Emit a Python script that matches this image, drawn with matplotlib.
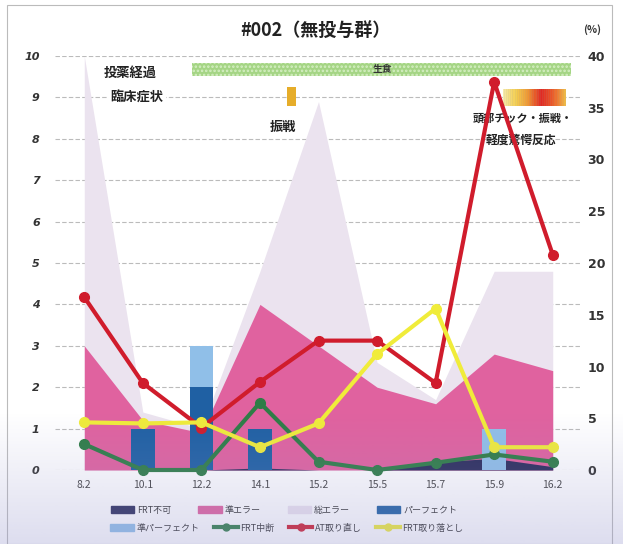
import matplotlib
matplotlib.use('Agg')
import matplotlib.pyplot as plt
import numpy as np
from matplotlib.patches import Rectangle, Patch
from matplotlib.lines import Line2D

plt.rcParams['font.family'] = ['Noto Sans CJK JP', 'DejaVu Sans']

categories = ['8.2', '10.1', '12.2', '14.1', '15.2', '15.5', '15.7', '15.9', '16.2']
# left axis (counts)
frt_fuka = [0, 0, 0, 0.05, 0, 0, 0.2, 0.28, 0.08]
jun_error = [3.0, 1.2, 0.9, 4.0, 3.0, 2.0, 1.6, 2.8, 2.4]
sou_error = [10.0, 1.4, 1.0, 4.8, 8.9, 2.6, 1.7, 4.8, 4.8]
perfect = [0, 1, 2, 1, 0, 0, 0, 0, 0]
jun_perfect = [0, 0, 1, 0, 0, 0, 0, 1, 0]
# right axis (%)
frt_chudan = [2.5, 0, 0, 6.5, 0.8, 0, 0.7, 1.5, 0.8]
at_torinaoshi = [16.7, 8.4, 4.1, 8.5, 12.5, 12.5, 8.4, 37.5, 20.8]
frt_toriotoshi = [4.6, 4.5, 4.6, 2.2, 4.5, 11.2, 15.6, 2.2, 2.2]

series_names = ['FRT不可', '準エラー', '総エラー', 'パーフェクト',
                '準パーフェクト', 'FRT中断', 'AT取り直し', 'FRT取り落とし']

c_navy = '#2b2d5c'
c_pink = '#e0629f'
c_lav = '#ebe3ef'
c_blue = '#1f60a3'
c_lblue = '#90bfe8'
c_green = '#2e7d46'
c_red = '#d01c2c'
c_yellow = '#f0ec3a'

W, H = 623, 544
fig = plt.figure(figsize=(W / 100, H / 100), dpi=100)
fig.patch.set_facecolor('white')

ax = fig.add_axes([55 / W, 1 - 470 / H, 527 / W, 414 / H])
x = np.arange(len(categories))
ax.set_xlim(-0.5, len(categories) - 0.5)
ax.set_ylim(0, 10)
ax.set_yticks(range(0, 11))
ax.set_axisbelow(True)
ax.grid(axis='y', linestyle=(0, (4, 2)), color='#bbbbbb', lw=0.8)
for s in ax.spines.values():
    s.set_visible(False)

ax.fill_between(x, 0, sou_error, color=c_lav, lw=0, zorder=1)
ax.fill_between(x, 0, jun_error, color=c_pink, lw=0, zorder=2)
ax.fill_between(x, 0, frt_fuka, color=c_navy, lw=0, zorder=3)
ax.bar(x, perfect, width=0.4, color=c_blue, zorder=4)
ax.bar(x, jun_perfect, width=0.4, bottom=perfect, color=c_lblue, zorder=4)

ax.set_xticks(x, categories)
ax.tick_params(axis='x', length=0, pad=7, labelsize=7.5, labelcolor='#444444')
ax.tick_params(axis='y', length=0, pad=11, labelsize=8, labelcolor='#333333')
for t in ax.get_yticklabels():
    t.set_fontstyle('italic')
    t.set_fontweight('bold')
    t.set_fontfamily(['DejaVu Sans'])

# annotation shapes (medication / symptoms)
plt.rcParams['hatch.linewidth'] = 1.2
ax.add_patch(Rectangle((1.84, 9.52), 6.47, 0.31, facecolor='#a5d585',
                       edgecolor='#d6efc4', hatch='....', lw=0, zorder=6))
ax.text(5.1, 9.675, '生食', ha='center', va='center', fontsize=7,
        fontweight='bold', color='#333333', zorder=7)
ax.text(0.78, 9.6, '投薬経過', ha='center', va='center', fontsize=9.5,
        fontweight='bold', color='#222222', zorder=7)
ax.text(0.9, 9.0, '臨床症状', ha='center', va='center', fontsize=9.5,
        fontweight='bold', color='#222222', zorder=7,
        bbox=dict(facecolor='white', edgecolor='none', pad=1.5))
ax.add_patch(Rectangle((3.46, 8.79), 0.16, 0.46, facecolor='#e6ad2a',
                       edgecolor='none', zorder=6))
ax.text(3.39, 8.29, '振戦', ha='center', va='center', fontsize=9.5,
        fontweight='bold', color='#222222', zorder=7)

# gradient symptom bar
ncol = 60
stops = np.array([[248, 236, 170], [244, 206, 80], [240, 150, 50],
                  [225, 40, 35], [236, 90, 40], [242, 190, 70]]) / 255
pos = np.linspace(0, 1, len(stops))
t = np.linspace(0, 1, ncol)
grad = np.stack([np.interp(t, pos, stops[:, k]) for k in range(3)], axis=1)
stripe = np.where(np.arange(ncol) % 2 == 0, 1.0, 0.88)
grad = np.clip(grad * stripe[:, None] + (1 - stripe[:, None]) * 0.6, 0, 1)
ax.imshow(grad[None, :, :], extent=(7.15, 8.21, 8.79, 9.18), aspect='auto',
          zorder=6, interpolation='nearest')
ax.set_xlim(-0.5, len(categories) - 0.5)
ax.set_ylim(0, 10)
ax.text(7.48, 8.5, '頭部チック・振戦・', ha='center', va='center', fontsize=8,
        fontweight='bold', color='#222222', zorder=7)
ax.text(7.45, 7.97, '軽度驚愕反応', ha='center', va='center', fontsize=8.5,
        fontweight='bold', color='#222222', zorder=7)

# right axis lines
ax2 = ax.twinx()
ax2.set_ylim(0, 40)
ax2.set_yticks(range(0, 41, 5))
for s in ax2.spines.values():
    s.set_visible(False)
ax2.tick_params(axis='y', length=0, pad=4, labelsize=9, labelcolor='#333333')
for t2 in ax2.get_yticklabels():
    t2.set_fontweight('bold')
    t2.set_fontfamily(['DejaVu Sans'])
lkw = dict(lw=3, marker='o', ms=7, clip_on=False)
ax2.plot(x, frt_chudan, color=c_green, zorder=3, **lkw)
ax2.plot(x, at_torinaoshi, color=c_red, zorder=4, **lkw)
ax2.plot(x, frt_toriotoshi, color=c_yellow, zorder=5, **lkw)

fig.text(315 / W, 1 - 30 / H, '#002（無投与群）', ha='center', va='center',
         fontsize=13, fontweight='bold', color='#222222')
fig.text(592 / W, 1 - 30 / H, '(%)', ha='center', va='center', fontsize=7.5,
         fontweight='bold', color='#333333')

handles = [
    Patch(color=c_navy), Patch(color=c_pink), Patch(color=c_lav), Patch(color=c_blue),
    Patch(color=c_lblue),
    Line2D([], [], color=c_green, lw=3, marker='o', ms=5),
    Line2D([], [], color=c_red, lw=3, marker='o', ms=5),
    Line2D([], [], color=c_yellow, lw=3, marker='o', ms=5),
]
legkw = dict(ncol=4, loc='center', frameon=False, fontsize=6.5, handlelength=2.6,
             handleheight=0.7, handletextpad=0.3)
leg1 = fig.legend(handles[:4], series_names[:4], bbox_to_anchor=(284 / W, 1 - 510 / H),
                  columnspacing=3.0, **legkw)
leg2 = fig.legend(handles[4:], series_names[4:], bbox_to_anchor=(287 / W, 1 - 528 / H),
                  columnspacing=1.6, **legkw)
for lg in (leg1, leg2):
    for txt in lg.get_texts():
        txt.set_color('#333333')

# chart border
fig.patches.append(Rectangle((7 / W, 0), 605 / W, 1 - 5 / H, transform=fig.transFigure,
                             fill=False, edgecolor='#bbbbbb', lw=0.8))

# scan-like bluish tint toward bottom
ov = fig.add_axes([0, 0, 1, 1], zorder=20)
ov.axis('off')
yy = np.linspace(0, 1, 200)[:, None]
alpha = np.clip((yy - 0.76) / 0.24, 0, 1) * 0.32
img = np.zeros((200, 1, 4))
img[..., 0] = 150 / 255
img[..., 1] = 150 / 255
img[..., 2] = 205 / 255
img[..., 3] = alpha
ov.imshow(img, extent=(0, 1, 0, 1), aspect='auto', origin='upper')
ov.set_xlim(0, 1)
ov.set_ylim(0, 1)

fig.savefig('out.png', dpi=100)
